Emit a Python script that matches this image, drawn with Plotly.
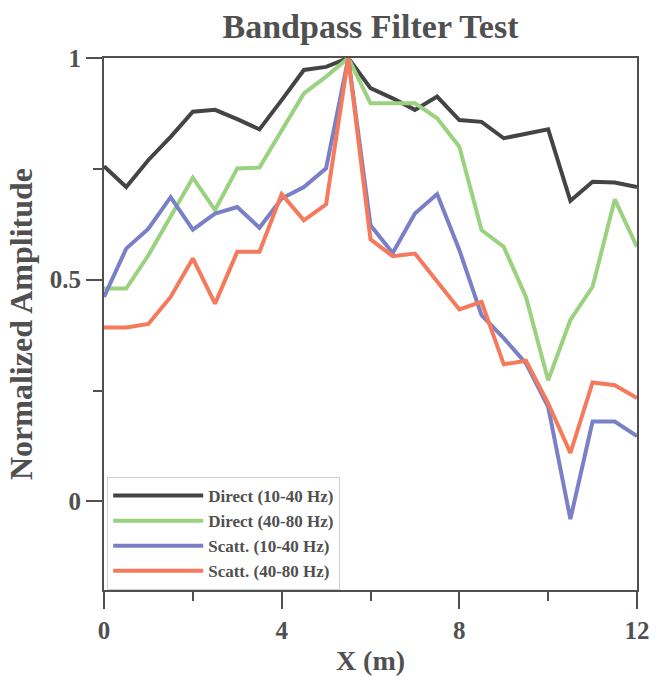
import plotly.graph_objects as go

x_m = [0, 0.5, 1, 1.5, 2, 2.5, 3, 3.5, 4, 4.5, 5, 5.5, 6, 6.5, 7, 7.5, 8, 8.5, 9, 9.5, 10, 10.5, 11, 11.5, 12]

direct_10_40 = [0.756, 0.709, 0.77, 0.822, 0.879, 0.883, 0.862, 0.839, 0.905, 0.973, 0.98, 1.0,
                0.932, 0.909, 0.883, 0.913, 0.86, 0.856, 0.819, 0.828, 0.839, 0.678, 0.721, 0.719, 0.709]
direct_40_80 = [0.48, 0.48, 0.555, 0.642, 0.73, 0.657, 0.751, 0.753, 0.837, 0.92, 0.958, 1.0,
                0.898, 0.898, 0.898, 0.864, 0.80, 0.612, 0.574, 0.461, 0.273, 0.409, 0.484, 0.681, 0.574]
scatt_10_40 = [0.461, 0.57, 0.615, 0.686, 0.613, 0.649, 0.664, 0.617, 0.683, 0.709, 0.751, 1.0,
               0.623, 0.56, 0.649, 0.693, 0.567, 0.42, 0.368, 0.311, 0.213, -0.04, 0.18, 0.18, 0.147]
scatt_40_80 = [0.392, 0.392, 0.40, 0.461, 0.548, 0.446, 0.563, 0.563, 0.693, 0.634, 0.67, 1.0,
               0.591, 0.553, 0.559, 0.495, 0.433, 0.45, 0.309, 0.317, 0.221, 0.109, 0.268, 0.262, 0.233]

series_names = ["Direct (10-40 Hz)", "Direct (40-80 Hz)", "Scatt. (10-40 Hz)", "Scatt. (40-80 Hz)"]
series_values = [direct_10_40, direct_40_80, scatt_10_40, scatt_40_80]
series_colors = ["#444444", "#9AD27F", "#7A80C8", "#F47A5B"]

FONT = "Liberation Serif"
TXT = "#505050"
AX = "#505050"

fig = go.Figure()
for name, vals, col in zip(series_names, series_values, series_colors):
    fig.add_trace(go.Scatter(x=x_m, y=vals, mode="lines", name="<b>" + name + "</b>",
                             line=dict(color=col, width=4)))

fig.update_layout(
    width=660, height=677,
    margin=dict(l=104, r=23, t=58, b=87),
    paper_bgcolor="white", plot_bgcolor="white",
    font=dict(family=FONT, color=TXT),
    title=dict(text="<b>Bandpass Filter Test</b>", x=(104 + 637) / 2 / 660, xref="container", xanchor="center",
               y=0.962, yanchor="middle", yref="container",
               font=dict(size=34, family=FONT, color=TXT)),
    showlegend=True,
    legend=dict(x=0.006, y=0.0, xanchor="left", yanchor="bottom",
                bgcolor="rgba(255,255,255,1)", bordercolor="#D0D0D0", borderwidth=1,
                font=dict(size=17, family=FONT, color=TXT),
                itemwidth=90, tracegroupgap=0),
)

fig.update_xaxes(
    range=[0, 12], dtick=4, tick0=0, automargin=False,
    showgrid=False, zeroline=False,
    showline=True, linecolor=AX, linewidth=2, mirror=True,
    ticks="outside", ticklen=17, tickwidth=2, tickcolor=AX,
    minor=dict(dtick=2, tick0=0, ticks="outside", ticklen=9, tickwidth=2, tickcolor=AX),
    tickfont=dict(size=25, family=FONT, color=TXT),
    tickprefix="<b>", ticksuffix="</b>",
    title=dict(text="<b>X (m)</b>", font=dict(size=28, family=FONT, color=TXT), standoff=7),
)
fig.update_yaxes(
    range=[-0.2, 1.0], dtick=0.5, tick0=0, automargin=False,
    showgrid=False, zeroline=False,
    showline=True, linecolor=AX, linewidth=2, mirror=True,
    ticks="outside", ticklen=16, tickwidth=2, tickcolor=AX,
    minor=dict(dtick=0.25, tick0=0, ticks="outside", ticklen=9, tickwidth=2, tickcolor=AX),
    tickfont=dict(size=25, family=FONT, color=TXT),
    tickprefix="<b>", ticksuffix="</b>",
    title=dict(text="<b>Normalized Amplitude</b>", font=dict(size=32, family=FONT, color=TXT), standoff=8),
)

fig.write_html("out.html")
